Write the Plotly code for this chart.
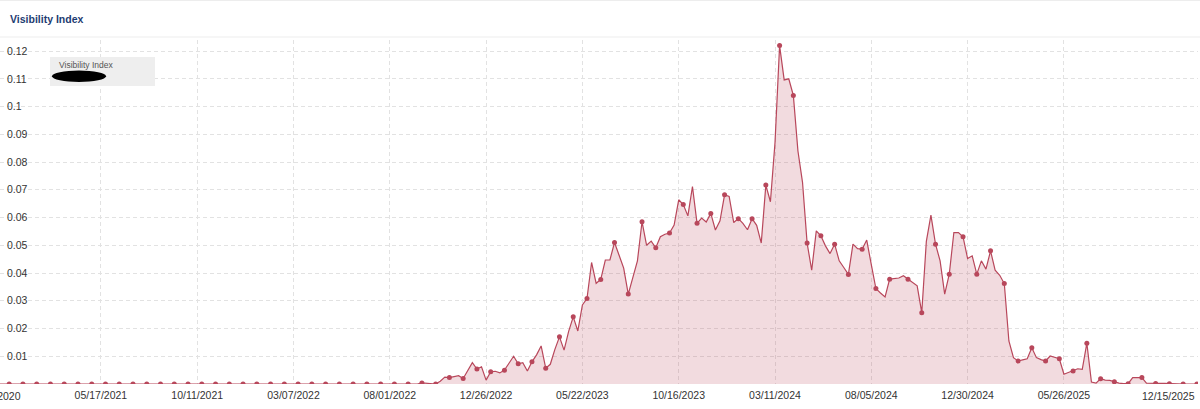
import pandas as pd
import plotly.graph_objects as go

# ---------------- data ----------------
start_date = "2020-12-14"          # first weekly value (Mondays)
visibility = [
    # 2020-12-14 .. (flat zero period)
    0.0, 0.0, 0.0, 0.0, 0.0, 0.0, 0.0, 0.0, 0.0, 0.0, 0.0, 0.0,
    0.0, 0.0, 0.0, 0.0, 0.0, 0.0, 0.0, 0.0, 0.0, 0.0, 0.0, 0.0,
    0.0, 0.0, 0.0, 0.0, 0.0, 0.0, 0.0, 0.0, 0.0, 0.0, 0.0, 0.0,
    0.0, 0.0, 0.0, 0.0, 0.0, 0.0, 0.0, 0.0, 0.0, 0.0, 0.0, 0.0,
    0.0, 0.0, 0.0, 0.0, 0.0, 0.0, 0.0, 0.0, 0.0, 0.0, 0.0, 0.0,
    0.0, 0.0, 0.0, 0.0, 0.0, 0.0, 0.0, 0.0, 0.0, 0.0, 0.0, 0.0,
    0.0, 0.0, 0.0, 0.0, 0.0, 0.0, 0.0, 0.0, 0.0, 0.0, 0.0, 0.0,
    0.0, 0.0, 0.0, 0.0, 0.0, 0.0, 0.0, 0.0,
    # index 92 ..
    0.0004, 0.0003, 0.0002, 0.0, 0.001, 0.0025, 0.0023, 0.0026,
    0.003, 0.002, 0.005, 0.0077, 0.0054, 0.0062, 0.0014, 0.0044,
    0.0046, 0.004, 0.005, 0.0075, 0.010, 0.0073, 0.0077, 0.0047,
    0.008, 0.0105, 0.0137, 0.0057, 0.0071, 0.0125, 0.017, 0.0122,
    0.019, 0.0242, 0.0191, 0.0285, 0.0308, 0.0438, 0.0363, 0.0377,
    0.0447, 0.0447, 0.051, 0.0464, 0.0418, 0.0324, 0.0385, 0.0444,
    # index 140 ..
    0.0585, 0.050, 0.0515, 0.0491, 0.0531, 0.054, 0.0544, 0.0573,
    0.0664, 0.0647, 0.0606, 0.0712, 0.0579, 0.0598, 0.0584, 0.0615,
    0.0555, 0.0588, 0.0682, 0.0676, 0.0582, 0.0596, 0.0579, 0.0556,
    0.0596, 0.0572, 0.0508, 0.0717, 0.0657, 0.087, 0.122, 0.1096,
    0.110, 0.104, 0.084, 0.0727, 0.0508, 0.041, 0.0552, 0.0534,
    # index 180 ..
    0.0498, 0.047, 0.0504, 0.0444, 0.042, 0.0395, 0.0504, 0.0488,
    0.0486, 0.0519, 0.043, 0.0344, 0.0328, 0.0314, 0.0378, 0.0379,
    0.0382, 0.039, 0.0378, 0.0366, 0.0354, 0.0257, 0.0514, 0.0609,
    0.0504, 0.0444, 0.0324, 0.0396, 0.0546, 0.0546, 0.0531, 0.0452,
    0.0462, 0.0396, 0.0444, 0.0414, 0.048, 0.041, 0.0392, 0.0362,
    # index 220 ..
    0.0155, 0.0095, 0.0083, 0.0087, 0.0091, 0.0131, 0.0095, 0.0088,
    0.0083, 0.0101, 0.0097, 0.0091, 0.0035, 0.0041, 0.0047, 0.0055,
    0.0053, 0.0147, 0.0007, 0.0003, 0.0019, 0.0014, 0.0013, 0.0008,
    0.0003, 0.0001, 0.0001, 0.0023, 0.0023, 0.0023, 0.0003, 0.0002,
    0.0002, 0.0002, 0.0002, 0.0001, 0.0001, 0.0, 0.0, 0.0,
    0.0, 0.0,
]

x_tick_dates = ["2021-05-17", "2021-10-11", "2022-03-07", "2022-08-01",
                "2022-12-26", "2023-05-22", "2023-10-16", "2024-03-11",
                "2024-08-05", "2024-12-30", "2025-05-26"]
x_tick_labels = ["05/17/2021", "10/11/2021", "03/07/2022", "08/01/2022",
                 "12/26/2022", "05/22/2023", "10/16/2023", "03/11/2024",
                 "08/05/2024", "12/30/2024", "05/26/2025"]
first_tick_date, first_tick_label = "2020-12-21", "12/21/2020"
last_tick_date, last_tick_label = "2025-12-15", "12/15/2025"

y_tick_vals = [0.01, 0.02, 0.03, 0.04, 0.05, 0.06, 0.07, 0.08, 0.09, 0.10, 0.11, 0.12]
y_tick_labels = ["0.01", "0.02", "0.03", "0.04", "0.05", "0.06", "0.07", "0.08",
                 "0.09", "0.1", "0.11", "0.12"]

series_name = "Visibility Index"
title_text = "Visibility Index"

# ---------------- build ----------------
dates = pd.date_range(start=start_date, periods=len(visibility), freq="7D")

# markers are drawn on every third weekly point (one 4-week gap in autumn 2024)
marker_idx = [i for i in range(len(visibility))
              if (i <= 194 and i % 3 == 2) or (i >= 198 and i % 3 == 0)]

LINE = "#b8475b"
FILL = "rgba(190,75,95,0.20)"
FONT = "Liberation Sans, Arial, sans-serif"

W, H = 1200, 409
ML, MR, MT, MB = 0, 2, 40, 25
PW, PH = W - ML - MR, H - MT - MB


def px(x):          # pixel -> paper x
    return (x - ML) / PW


def py(y):          # pixel -> paper y
    return (H - MB - y) / PH


fig = go.Figure()
fig.add_trace(go.Scatter(
    x=dates, y=visibility, mode="lines", name=series_name,
    line=dict(color=LINE, width=1.2), fill="tozeroy", fillcolor=FILL,
    hoverinfo="skip", showlegend=False))
fig.add_trace(go.Scatter(
    x=[dates[i] for i in marker_idx], y=[visibility[i] for i in marker_idx],
    mode="markers", marker=dict(color=LINE, size=5),
    hoverinfo="skip", showlegend=False))

fig.update_layout(
    width=W, height=H,
    margin=dict(l=ML, r=MR, t=MT, b=MB, pad=0),
    paper_bgcolor="white", plot_bgcolor="white",
    font=dict(family=FONT, size=10.5, color="#333"),
    title=dict(text="<b>" + title_text + "</b>", x=10 / W, xref="container",
               xanchor="left", y=1 - 19 / H, yref="container", yanchor="middle",
               font=dict(family=FONT, size=10.5, color="#1e3c72")),
    showlegend=False,
    xaxis=dict(type="date", range=["2020-12-14", "2025-12-16 16:00"],
               tickmode="array", tickvals=x_tick_dates, ticktext=x_tick_labels,
               ticks="", showline=False, zeroline=False, ticklabelstandoff=3,
               showgrid=True, gridcolor="#e2e2e2", griddash="4px,3px", gridwidth=1,
               tickfont=dict(family=FONT, size=10.5, color="#333")),
    yaxis=dict(range=[0, 0.124], tickmode="array", tickvals=y_tick_vals,
               ticktext=y_tick_labels, ticks="", ticklabelposition="inside",
               ticklabelstandoff=4,
               showline=False, zeroline=False,
               showgrid=True, gridcolor="#e2e2e2", griddash="4px,3px", gridwidth=1,
               tickfont=dict(family=FONT, size=10.5, color="#333")),
)

shapes = [
    # header separator lines
    dict(type="line", xref="paper", yref="paper", x0=px(0), x1=px(W), y0=py(37), y1=py(37),
         line=dict(color="#ededed", width=1), layer="above"),
    dict(type="line", xref="paper", yref="paper", x0=px(0), x1=px(W), y0=py(0.5), y1=py(0.5),
         line=dict(color="#ededed", width=1), layer="above"),
    # keep gridlines clear behind the y-axis labels
    dict(type="rect", xref="paper", yref="paper", x0=px(0), x1=px(28), y0=py(44), y1=py(372),
         fillcolor="white", line=dict(width=0), layer="between"),
    # legend box
    dict(type="rect", xref="paper", yref="paper", x0=px(50), x1=px(155), y0=py(86), y1=py(57),
         fillcolor="#eeeeee", line=dict(width=0), layer="above"),
    dict(type="circle", xref="paper", yref="paper", x0=px(52), x1=px(106), y0=py(82), y1=py(70.5),
         fillcolor="black", line=dict(width=0), layer="above"),
]
fig.update_layout(shapes=shapes)

annotations = [
    dict(text=series_name, xref="paper", yref="paper", x=px(57), y=py(65),
         xanchor="left", yanchor="middle", showarrow=False,
         font=dict(family=FONT, size=8.5, color="#555")),
    dict(text=first_tick_label, xref="x", yref="paper", x=first_tick_date, y=py(395.5),
         xanchor="center", yanchor="middle", xshift=-10, showarrow=False,
         font=dict(family=FONT, size=10.5, color="#333")),
    dict(text=last_tick_label, xref="x", yref="paper", x=last_tick_date, y=py(395.5),
         xanchor="right", yanchor="middle", showarrow=False,
         font=dict(family=FONT, size=10.5, color="#333")),
]
fig.update_layout(annotations=annotations)

fig.write_html("out.html", config={"displayModeBar": False},
               post_script="document.body.style.margin='0px';"
                           "document.body.style.overflow='hidden';")
